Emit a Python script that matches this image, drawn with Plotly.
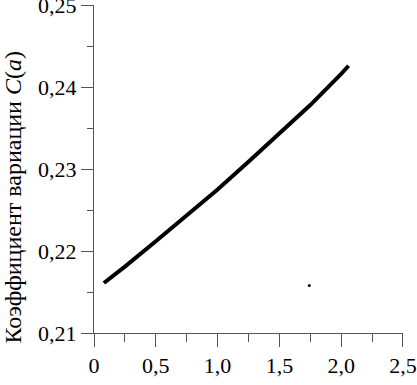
import plotly.graph_objects as go

# Data
a_values = [0.08, 0.25, 0.5, 0.75, 1.0, 1.25, 1.5, 1.75, 2.0, 2.06]
c_values = [0.2161, 0.2181, 0.2212, 0.2243, 0.2275, 0.2309, 0.2343, 0.2378, 0.2416, 0.2426]
dot_x = [1.742]
dot_y = [0.2158]

x_tickvals = [0, 0.5, 1.0, 1.5, 2.0, 2.5]
x_ticktext = ["0", "0,5", "1,0", "1,5", "2,0", "2,5"]
y_tickvals = [0.21, 0.22, 0.23, 0.24, 0.25]
y_ticktext = ["0,21", "0,22", "0,23", "0,24", "0,25"]

W, H = 417, 385
L, R, T, B = 94, 14, 5, 52

fig = go.Figure()
fig.add_trace(go.Scatter(x=a_values, y=c_values, mode="lines",
                         line=dict(color="black", width=4), showlegend=False,
                         hoverinfo="skip"))
fig.add_trace(go.Scatter(x=dot_x, y=dot_y, mode="markers",
                         marker=dict(color="black", size=3), showlegend=False,
                         hoverinfo="skip"))

axis_color = "#555555"
font = dict(family="Times New Roman", size=22, color="black")
title_font = dict(family="Times New Roman", size=24, color="black")

fig.update_layout(
    width=W, height=H,
    margin=dict(l=L, r=R, t=T, b=B, pad=0, autoexpand=False),
    paper_bgcolor="white", plot_bgcolor="white",
    font=font,
    xaxis=dict(range=[0, 2.5001], tickmode="array", tickvals=x_tickvals, ticktext=x_ticktext,
               automargin=False, ticklabeloverflow="allow",
               showgrid=False, zeroline=False, showline=True, linecolor=axis_color, linewidth=1,
               ticks="outside", ticklen=13, tickcolor=axis_color, tickwidth=1,
               minor=dict(dtick=0.25, tick0=0, ticks="outside", ticklen=8,
                          tickcolor=axis_color, tickwidth=1, showgrid=False),
               tickfont=font, fixedrange=True),
    yaxis=dict(range=[0.21, 0.25001], tickmode="array", tickvals=y_tickvals, ticktext=y_ticktext,
               automargin=False, ticklabeloverflow="allow",
               showgrid=False, zeroline=False, showline=True, linecolor=axis_color, linewidth=1,
               ticks="outside", ticklen=12, tickcolor=axis_color, tickwidth=1,
               minor=dict(dtick=0.005, tick0=0.21, ticks="outside", ticklen=6,
                          tickcolor=axis_color, tickwidth=1, showgrid=False),
               tickfont=font, fixedrange=True),
    annotations=[dict(
        text="Коэффициент вариации <i>C</i>(<i>a</i>)",
        xref="paper", yref="paper",
        x=(12 - L) / (W - L - R), y=(H - B - 197.5) / (H - T - B),
        xanchor="center", yanchor="middle", textangle=-90,
        showarrow=False, font=title_font)],
)

fig.write_html("out.html", config={"displayModeBar": False},
               post_script="document.body.style.margin='0';document.body.style.padding='0';")
